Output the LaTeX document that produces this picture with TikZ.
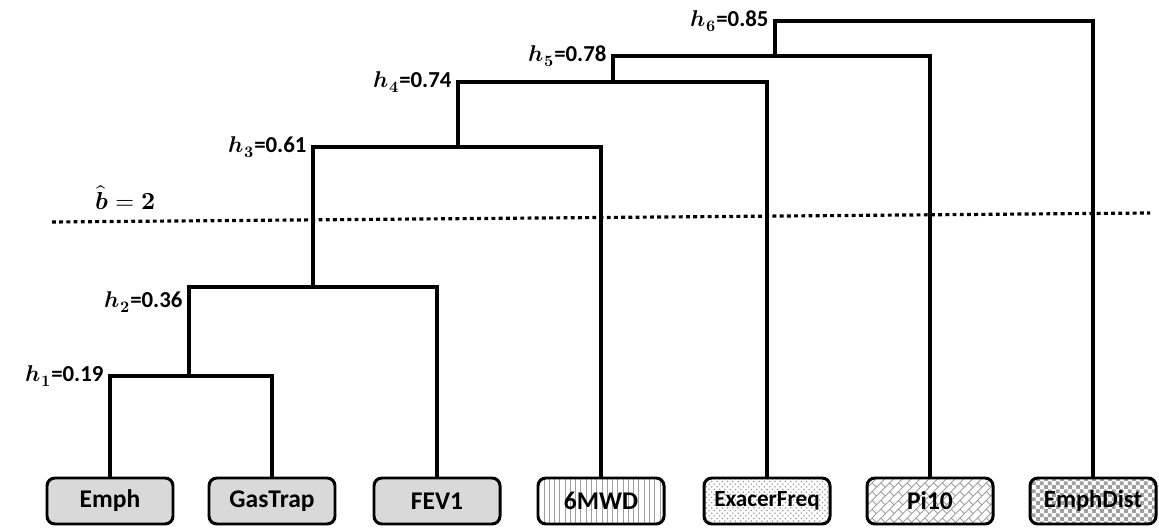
\documentclass[tikz,border=0pt]{standalone}
\usepackage{amsmath}
\usepackage{fontspec}
\usepackage{unicode-math}
\setmainfont{Carlito}
\setmathfont{Latin Modern Math}
\usetikzlibrary{positioning,calc,patterns}
\definecolor{boxgray}{HTML}{D9D9D9}
\pgfdeclarepatternformonly{fine checks}{\pgfqpoint{0pt}{0pt}}{\pgfqpoint{4.4pt}{4.4pt}}{\pgfqpoint{4.4pt}{4.4pt}}{%
  \pgfpathrectangle{\pgfqpoint{0pt}{0pt}}{\pgfqpoint{2.2pt}{2.2pt}}%
  \pgfpathrectangle{\pgfqpoint{2.2pt}{2.2pt}}{\pgfqpoint{2.2pt}{2.2pt}}%
  \pgfusepath{fill}}
\pgfdeclarepatternformonly{diag ladder}{\pgfqpoint{-0.5pt}{-0.5pt}}{\pgfqpoint{5.5pt}{5.5pt}}{\pgfqpoint{5pt}{5pt}}{%
  \pgfsetlinewidth{0.5pt}%
  \pgfpathmoveto{\pgfqpoint{0pt}{0pt}}\pgfpathlineto{\pgfqpoint{5pt}{5pt}}%
  \pgfpathmoveto{\pgfqpoint{3.75pt}{3.75pt}}\pgfpathlineto{\pgfqpoint{2.5pt}{5pt}}%
  \pgfpathmoveto{\pgfqpoint{2.5pt}{0pt}}\pgfpathlineto{\pgfqpoint{1.25pt}{1.25pt}}%
  \pgfusepath{stroke}}

\begin{document}
\begin{tikzpicture}[x=0.2mm,y=0.2mm,
  leaf/.style={draw,line width=1.7pt,rounded corners=4.5pt,minimum width=25.2mm,minimum height=9.2mm,
    font=\fontsize{14.5}{16}\selectfont\bfseries},
  plain/.style={leaf,fill=boxgray},
  hatched/.style={leaf,preaction={fill=white},pattern=#1,pattern color=gray!75},
  link/.style={line width=2pt},
  hlab/.style={left,inner sep=3.5pt,font=\fontsize{13}{15}\selectfont\bfseries},
  blab/.style={font=\fontsize{14}{16}\selectfont},
  cutline/.style={line width=1.8pt,dash pattern=on 2.2pt off 1.9pt}]
\useasboundingbox (0,0) rectangle (1159,529);
% leaves
\node[plain] (emph) at (110,28) {Emph};
\node[plain] (gas) at (272,28) {GasTrap};
\node[plain] (fev) at (437,28) {FEV1};
\node[hatched=vertical lines] (mwd) at (601,28) {6MWD};
\node[hatched=crosshatch dots,font=\fontsize{13.2}{15}\selectfont\bfseries] (exa) at (767,28) {ExacerFreq};
\node[hatched=diag ladder] (pi) at (930,28) {Pi10};
\node[hatched=fine checks,font=\fontsize{14}{16}\selectfont\bfseries] (edist) at (1093,28) {EmphDist};
% merges
\coordinate (j1) at (189,153);
\coordinate (j2) at (313,242);
\coordinate (j3) at (458,382);
\coordinate (j4) at (613,447);
\coordinate (j5) at (775,473);
\coordinate (j6) at (934,508);
\draw[link] (emph) |- (j1) -| (gas);
\draw[link] (j1) |- (j2) -| (fev);
\draw[link] (j2) |- (j3) -| (mwd);
\draw[link] (j3) |- (j4) -| (exa);
\draw[link] (j4) |- (j5) -| (pi);
\draw[link] (j5) |- (j6) -| (edist);
% heights
\node[hlab] at (emph |- j1) {$\symbfit{h}_{\symbf{1}}$=0.19};
\node[hlab,yshift=-3mm] at (j1 |- j2) {$\symbfit{h}_{\symbf{2}}$=0.36};
\node[hlab] at (j2 |- j3) {$\symbfit{h}_{\symbf{3}}$=0.61};
\node[hlab] at (j3 |- j4) {$\symbfit{h}_{\symbf{4}}$=0.74};
\node[hlab] at (j4 |- j5) {$\symbfit{h}_{\symbf{5}}$=0.78};
\node[hlab] at (j5 |- j6) {$\symbfit{h}_{\symbf{6}}$=0.85};
% cut
\coordinate (cl) at (52,307);
\coordinate (cr) at (1150,316);
\draw[cutline] (cl) -- (cr);
\node[blab] (bhat) at (126,331) {$\widehat{\symbfit{b}}=\symbf{2}$};
\end{tikzpicture}
\end{document}
